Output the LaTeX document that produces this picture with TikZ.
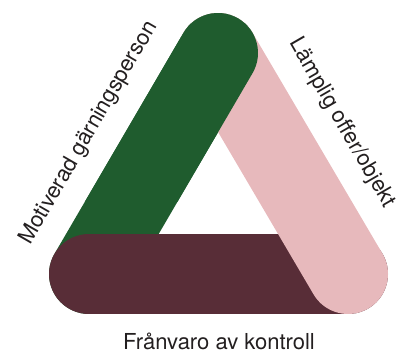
\documentclass[tikz,border=0pt]{standalone}
\usepackage{fontspec}
\setmainfont{TeX Gyre Heros}
\usepackage{tikz}

\definecolor{barGreen}{HTML}{1F5C2E}
\definecolor{barMaroon}{HTML}{582D37}
\definecolor{barPink}{HTML}{E7B9BC}
\definecolor{labelGray}{HTML}{231F20}

\begin{document}
\begin{tikzpicture}[
		x=1pt, y=1pt,
		every node/.style={font=\fontsize{22}{26}\selectfont, text=labelGray, inner sep=0pt},
		bar/.style={line width=80pt, line cap=round}
	]
  \useasboundingbox (0,0) rectangle (398,352);
  \coordinate (bl) at (89,78);
  \coordinate (br) at (348,78);
  \coordinate (top) at (218,299);
  \draw[bar, barGreen] (bl) -- (top);
  \draw[bar, barMaroon] (bl) -- (br);
  \draw[bar, barPink] (top) -- (br);
  \begin{scope}
    \clip (0,150) rectangle (398,352);
    \draw[bar, barGreen] (bl) -- (top);
  \end{scope}
  \node (motiv) [rotate=60] at (89,219) {Motiverad gärningsperson};
  \node (laempl) [rotate=-60] at (342,229) {Lämplig offer/objekt};
  \node (kontroll) [anchor=base] at (219,2) {Frånvaro av kontroll};
\end{tikzpicture}
\end{document}
